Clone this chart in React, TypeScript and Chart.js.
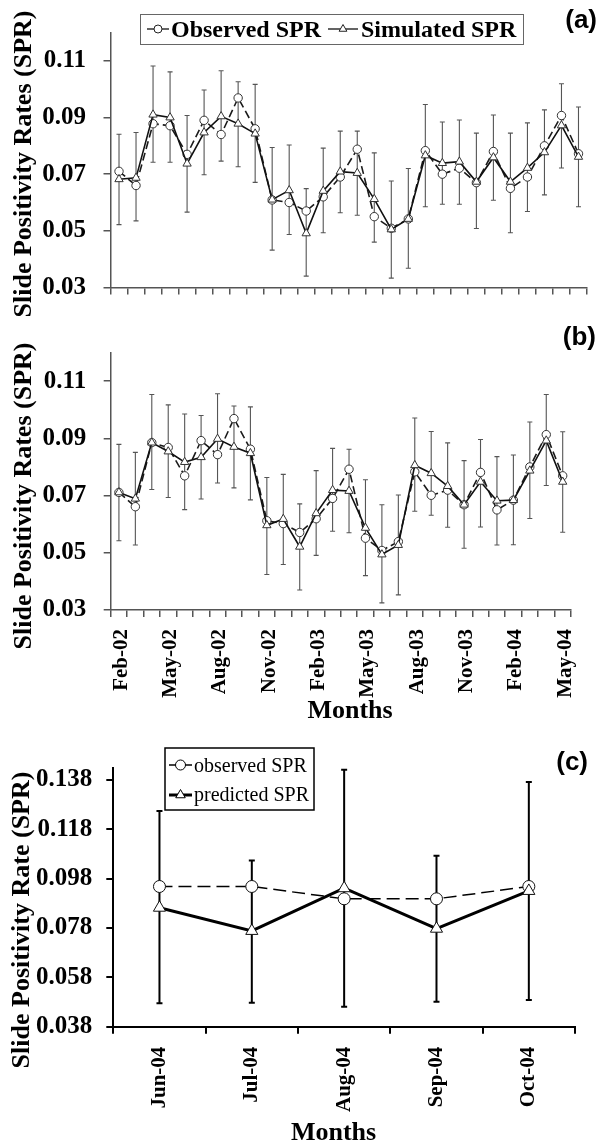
import React, { useEffect, useRef } from 'react';
import { Chart, registerables } from 'chart.js';

Chart.register(...registerables);

const SERIF = "'Liberation Serif', 'Times New Roman', serif";
const SANS = "'Liberation Sans', Arial, sans-serif";

// ---------- data ----------
const monthsAB = ['Feb-02', 'Mar-02', 'Apr-02', 'May-02', 'Jun-02', 'Jul-02', 'Aug-02', 'Sep-02', 'Oct-02', 'Nov-02', 'Dec-02',
  'Jan-03', 'Feb-03', 'Mar-03', 'Apr-03', 'May-03', 'Jun-03', 'Jul-03', 'Aug-03', 'Sep-03', 'Oct-03', 'Nov-03', 'Dec-03',
  'Jan-04', 'Feb-04', 'Mar-04', 'Apr-04', 'May-04'];
const monthsC = ['Jun-04', 'Jul-04', 'Aug-04', 'Sep-04', 'Oct-04'];

const yTicksAB = [0.03, 0.05, 0.07, 0.09, 0.11];
const yTicksC = [0.038, 0.058, 0.078, 0.098, 0.118, 0.138];

const observedA = [0.071, 0.066, 0.0878, 0.0871, 0.077, 0.089, 0.084, 0.0969, 0.086, 0.0609, 0.060, 0.057, 0.062, 0.069,
  0.0788, 0.055, 0.0509, 0.0542, 0.0783, 0.070, 0.0721, 0.067, 0.078, 0.065, 0.069, 0.080, 0.0907, 0.0772];
const simulatedA = [0.0682, 0.0687, 0.091, 0.090, 0.0737, 0.0847, 0.0904, 0.0878, 0.0843, 0.061, 0.0643, 0.0491, 0.0641, 0.0709,
  0.0704, 0.0612, 0.0505, 0.0542, 0.0766, 0.0739, 0.0744, 0.0673, 0.0759, 0.0673, 0.0722, 0.0777, 0.0872, 0.0761];
const errHighA = [0.0841, 0.0847, 0.1082, 0.1061, 0.0907, 0.0997, 0.1065, 0.1026, 0.1017, 0.0794, 0.0803, 0.0649, 0.0792, 0.0852,
  0.0852, 0.0775, 0.0676, 0.0720, 0.0946, 0.0884, 0.0891, 0.0845, 0.0909, 0.0845, 0.0881, 0.0927, 0.1019, 0.0937];
const errLowA = [0.0522, 0.0535, 0.0742, 0.0742, 0.0566, 0.0698, 0.0746, 0.0726, 0.0671, 0.0432, 0.0487, 0.0340, 0.0493, 0.0564,
  0.0555, 0.0460, 0.0333, 0.0368, 0.0585, 0.0594, 0.0594, 0.0508, 0.0608, 0.0493, 0.0568, 0.0627, 0.0722, 0.0585];

const observedB = [0.0711, 0.0661, 0.0885, 0.0868, 0.0769, 0.0892, 0.0843, 0.0969, 0.0862, 0.0612, 0.0602, 0.0571, 0.0619, 0.0690,
  0.0792, 0.0551, 0.0508, 0.0539, 0.0783, 0.0701, 0.0719, 0.0668, 0.0781, 0.0650, 0.0684, 0.0800, 0.0913, 0.0769];
const simulatedB = [0.0711, 0.0689, 0.0885, 0.0854, 0.0817, 0.0834, 0.0898, 0.0870, 0.0848, 0.0596, 0.0618, 0.0521, 0.0638, 0.0719,
  0.0716, 0.0587, 0.0494, 0.0527, 0.0806, 0.0778, 0.0733, 0.0668, 0.0748, 0.0682, 0.0684, 0.0787, 0.0892, 0.0748];
const errHighB = [0.0879, 0.0851, 0.1053, 0.1017, 0.0985, 0.0980, 0.1056, 0.1013, 0.1010, 0.0763, 0.0774, 0.0671, 0.0787, 0.0865,
  0.0862, 0.0755, 0.0668, 0.0702, 0.0971, 0.0924, 0.0884, 0.0822, 0.0896, 0.0836, 0.0842, 0.0957, 0.1053, 0.0923];
const errLowB = [0.0542, 0.0527, 0.0721, 0.0693, 0.0651, 0.0688, 0.0744, 0.0727, 0.0685, 0.0424, 0.0459, 0.0370, 0.0491, 0.0575,
  0.0570, 0.0420, 0.0325, 0.0353, 0.0645, 0.0631, 0.0589, 0.0516, 0.0590, 0.0527, 0.0528, 0.0620, 0.0735, 0.0572];

const observedC = [0.0948, 0.0948, 0.0898, 0.0898, 0.0948];
const predictedC = [0.0862, 0.0768, 0.0941, 0.0777, 0.0930];
const errHighC = [0.1254, 0.1053, 0.1421, 0.1073, 0.1371];
const errLowC = [0.0475, 0.0477, 0.0461, 0.0481, 0.0488];

// ---------- helpers ----------
function drawTri(ctx: CanvasRenderingContext2D, x: number, y: number, r: number) {
  ctx.beginPath();
  ctx.moveTo(x, y - r);
  ctx.lineTo(x + 0.866 * r, y + 0.5 * r);
  ctx.lineTo(x - 0.866 * r, y + 0.5 * r);
  ctx.closePath();
}

function legendMarker(ctx: CanvasRenderingContext2D, kind: string, x1: number, x2: number, y: number, r: number, lw: number, color: string) {
  ctx.save();
  ctx.strokeStyle = color;
  ctx.lineWidth = lw;
  ctx.beginPath();
  ctx.moveTo(x1, y);
  ctx.lineTo(x2, y);
  ctx.stroke();
  const cx = (x1 + x2) / 2;
  ctx.fillStyle = '#fff';
  ctx.lineWidth = 1;
  if (kind === 'circle') {
    ctx.beginPath();
    ctx.arc(cx, y, r, 0, Math.PI * 2);
  } else {
    drawTri(ctx, cx, y, r);
  }
  ctx.fill();
  ctx.stroke();
  ctx.restore();
}

function text(ctx: CanvasRenderingContext2D, s: string, x: number, y: number, font: string, align: CanvasTextAlign, rot = 0) {
  ctx.save();
  ctx.fillStyle = '#000';
  ctx.font = font;
  ctx.textAlign = align;
  ctx.textBaseline = 'alphabetic';
  ctx.translate(x, y);
  if (rot) ctx.rotate(rot);
  ctx.fillText(s, 0, 0);
  ctx.restore();
}

function makeErrorBars(high: number[], low: number[], color: string, width: number, cap: number) {
  return {
    id: 'errorBars',
    beforeDatasetsDraw(chart: any) {
      const { ctx } = chart;
      const xs = chart.scales.x;
      const ys = chart.scales.y;
      ctx.save();
      ctx.strokeStyle = color;
      ctx.lineWidth = width;
      high.forEach((h, i) => {
        const px = xs.getPixelForValue(i);
        const pt = ys.getPixelForValue(h);
        const pb = ys.getPixelForValue(low[i]);
        ctx.beginPath();
        ctx.moveTo(px, pt);
        ctx.lineTo(px, pb);
        ctx.moveTo(px - cap, pt);
        ctx.lineTo(px + cap, pt);
        ctx.moveTo(px - cap, pb);
        ctx.lineTo(px + cap, pb);
        ctx.stroke();
      });
      ctx.restore();
    },
  };
}

function makeDecor(draw: (ctx: CanvasRenderingContext2D) => void) {
  return {
    id: 'decor',
    afterDraw(chart: any) {
      draw(chart.ctx);
    },
  };
}

type PanelOpts = {
  labels: string[];
  datasets: any[];
  yMin: number;
  yMax: number;
  yTicks: number[];
  decimals: number;
  padTop: number;
  padRight: number;
  yWidth: number;
  xHeight: number;
  yPad: number;
  axisColor: string;
  axisWidth: number;
  showX: boolean;
  xPad: number;
  xLabelOffset: number;
  xLabelEvery: number;
  plugins: any[];
};

function makeConfig(p: PanelOpts): any {
  const tickFont = { family: SERIF, size: 25, weight: 'bold' as const };
  return {
    type: 'line',
    data: { labels: p.labels, datasets: p.datasets },
    options: {
      responsive: false,
      animation: false,
      events: [],
      layout: { padding: { top: p.padTop, right: p.padRight, left: 0, bottom: 0 } },
      plugins: { legend: { display: false }, tooltip: { enabled: false }, title: { display: false } },
      scales: {
        x: {
          type: 'category',
          offset: true,
          grid: { offset: true, drawOnChartArea: false, drawTicks: true, tickLength: 7, color: p.axisColor, lineWidth: p.axisWidth },
          border: { display: true, color: p.axisColor, width: p.axisWidth },
          ticks: {
            display: p.showX,
            autoSkip: false,
            minRotation: 90,
            maxRotation: 90,
            padding: p.xPad,
            labelOffset: p.xLabelOffset,
            color: '#000',
            font: { family: SERIF, size: 21, weight: 'bold' },
            callback: (_v: any, i: number) => (i % p.xLabelEvery === 0 ? p.labels[i] : ''),
          },
          afterFit: (s: any) => { s.height = p.xHeight; },
        },
        y: {
          type: 'linear',
          min: p.yMin,
          max: p.yMax,
          grid: { drawOnChartArea: false, drawTicks: true, tickLength: 7, color: p.axisColor, lineWidth: p.axisWidth },
          border: { display: true, color: p.axisColor, width: p.axisWidth },
          afterBuildTicks: (s: any) => { s.ticks = p.yTicks.map((v) => ({ value: v })); },
          ticks: {
            padding: p.yPad,
            color: '#000',
            font: tickFont,
            callback: (v: any) => Number(v).toFixed(p.decimals),
          },
          afterFit: (s: any) => { s.width = p.yWidth; },
        },
      },
    },
    plugins: p.plugins,
  };
}

function abDatasets(obs: number[], sim: number[]) {
  return [
    {
      label: 'Observed SPR',
      data: obs,
      order: 2,
      borderColor: '#1a1a1a',
      borderWidth: 1.6,
      borderDash: [8, 4],
      tension: 0,
      pointStyle: 'circle',
      pointRadius: 4.2,
      pointBackgroundColor: '#fff',
      pointBorderColor: '#333',
      pointBorderWidth: 1,
    },
    {
      label: 'Simulated SPR',
      data: sim,
      order: 1,
      borderColor: '#111',
      borderWidth: 1.6,
      tension: 0,
      pointStyle: 'triangle',
      pointRadius: 4.8,
      pointBackgroundColor: '#fff',
      pointBorderColor: '#333',
      pointBorderWidth: 1,
    },
  ];
}

const TITLE_FONT = `bold 26px ${SERIF}`;

export default function App() {
  const refA = useRef<HTMLCanvasElement>(null);
  const refB = useRef<HTMLCanvasElement>(null);
  const refC = useRef<HTMLCanvasElement>(null);

  useEffect(() => {
    const charts: Chart[] = [];

    // Panel (a)
    charts.push(new Chart(refA.current as HTMLCanvasElement, makeConfig({
      labels: monthsAB,
      datasets: abDatasets(observedA, simulatedA),
      yMin: 0.03, yMax: 0.12, yTicks: yTicksAB, decimals: 2,
      padTop: 25, padRight: 13, yWidth: 110.5, xHeight: 22.3, yPad: 17.5,
      axisColor: '#555', axisWidth: 1.5, showX: false, xPad: 12, xLabelOffset: 0, xLabelEvery: 3,
      plugins: [
        makeErrorBars(errHighA, errLowA, '#555', 1.1, 2.5),
        makeDecor((ctx) => {
          ctx.save();
          ctx.strokeStyle = '#666';
          ctx.lineWidth = 1;
          ctx.strokeRect(140.5, 14.5, 383, 30);
          ctx.restore();
          legendMarker(ctx, 'circle', 147, 169, 29, 4, 1.4, '#222');
          text(ctx, 'Observed SPR', 171, 37, `bold 24px ${SERIF}`, 'left');
          legendMarker(ctx, 'triangle', 328, 358, 29, 4.5, 1.4, '#222');
          text(ctx, 'Simulated SPR', 361, 37, `bold 24px ${SERIF}`, 'left');
          text(ctx, '(a)', 597, 28, `bold 26px ${SANS}`, 'right');
          text(ctx, 'Slide Positivity Rates (SPR)', 31, 164, TITLE_FONT, 'center', -Math.PI / 2);
        }),
      ],
    })));

    // Panel (b)
    charts.push(new Chart(refB.current as HTMLCanvasElement, makeConfig({
      labels: monthsAB,
      datasets: abDatasets(observedB, simulatedB),
      yMin: 0.03, yMax: 0.12, yTicks: yTicksAB, decimals: 2,
      padTop: 22.7, padRight: 5, yWidth: 110.7, xHeight: 120, yPad: 17.5,
      axisColor: '#555', axisWidth: 1.5, showX: true, xPad: 12, xLabelOffset: 2.5, xLabelEvery: 3,
      plugins: [
        makeErrorBars(errHighB, errLowB, '#555', 1.1, 2.5),
        makeDecor((ctx) => {
          text(ctx, '(b)', 596, 25, `bold 26px ${SANS}`, 'right');
          text(ctx, 'Slide Positivity Rates (SPR)', 31, 176, TITLE_FONT, 'center', -Math.PI / 2);
          text(ctx, 'Months', 350, 398, TITLE_FONT, 'center');
        }),
      ],
    })));

    // Panel (c)
    charts.push(new Chart(refC.current as HTMLCanvasElement, makeConfig({
      labels: monthsC,
      datasets: [
        {
          label: 'observed SPR',
          data: observedC,
          order: 2,
          borderColor: '#000',
          borderWidth: 1.5,
          borderDash: [13, 6],
          tension: 0,
          pointStyle: 'circle',
          pointRadius: 6,
          pointBackgroundColor: '#fff',
          pointBorderColor: '#111',
          pointBorderWidth: 1,
        },
        {
          label: 'predicted SPR',
          data: predictedC,
          order: 1,
          borderColor: '#000',
          borderWidth: 3,
          tension: 0,
          pointStyle: 'triangle',
          pointRadius: 7,
          pointBackgroundColor: '#fff',
          pointBorderColor: '#111',
          pointBorderWidth: 1,
        },
      ],
      yMin: 0.038, yMax: 0.143, yTicks: yTicksC, decimals: 3,
      padTop: 37.5, padRight: 25, yWidth: 113.3, xHeight: 116.3, yPad: 14,
      axisColor: '#000', axisWidth: 2, showX: true, xPad: 13, xLabelOffset: 0, xLabelEvery: 1,
      plugins: [
        makeErrorBars(errHighC, errLowC, '#000', 2, 3),
        makeDecor((ctx) => {
          ctx.save();
          ctx.fillStyle = '#fff';
          ctx.fillRect(165, 18, 149, 62);
          ctx.strokeStyle = '#000';
          ctx.lineWidth = 1.5;
          ctx.strokeRect(165, 18, 149, 62);
          ctx.restore();
          legendMarker(ctx, 'circle', 169, 192, 35, 5, 1.5, '#000');
          text(ctx, 'observed SPR', 194, 41.5, `20px ${SERIF}`, 'left');
          legendMarker(ctx, 'triangle', 169, 192, 65, 5.5, 3, '#000');
          text(ctx, 'predicted SPR', 194, 71, `20px ${SERIF}`, 'left');
          text(ctx, '(c)', 588, 39.5, `bold 26px ${SANS}`, 'right');
          text(ctx, 'Slide Positivity Rate (SPR)', 29, 190, TITLE_FONT, 'center', -Math.PI / 2);
          text(ctx, 'Months', 333.5, 410, TITLE_FONT, 'center');
        }),
      ],
    })));

    return () => charts.forEach((c) => c.destroy());
  }, []);

  return (
    <div style={{ position: 'absolute', left: 0, top: 0, width: 600, height: 1143, background: '#fff' }}>
      <canvas ref={refA} width={600} height={320} style={{ position: 'absolute', left: 0, top: 0, width: 600, height: 320 }} />
      <canvas ref={refB} width={600} height={410} style={{ position: 'absolute', left: 0, top: 320, width: 600, height: 410 }} />
      <canvas ref={refC} width={600} height={413} style={{ position: 'absolute', left: 0, top: 730, width: 600, height: 413 }} />
    </div>
  );
}
